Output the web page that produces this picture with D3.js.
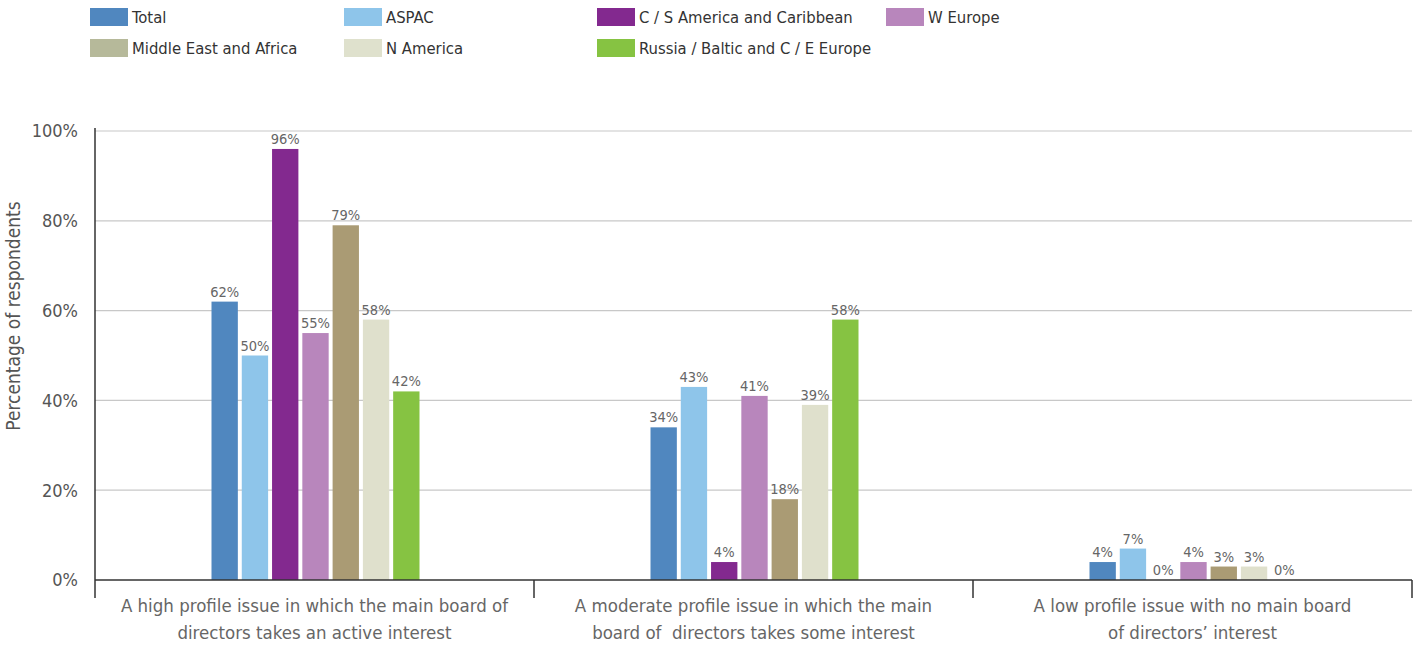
<!DOCTYPE html>
<html>
<head>
<meta charset="utf-8">
<script src="https://cdn.jsdelivr.net/npm/d3@7"></script>
<style>
  html, body { margin: 0; padding: 0; background: #fff; }
  svg { display: block; font-family: "Liberation Sans Narrow", "DejaVu Sans Condensed", "Roboto", sans-serif; }
  svg text { white-space: pre; }
</style>
</head>
<body>
<svg id="chart" width="1423" height="645"></svg>
<script>
// Survey categories (two-line axis labels)
const categories = [
  ["A high profile issue in which the main board of", "directors takes an active interest"],
  ["A moderate profile issue in which the main", "board of  directors takes some interest"],
  ["A low profile issue with no main board", "of directors\u2019 interest"]
];

// Regions and their colours
const series = ["Total", "ASPAC", "C / S America and Caribbean", "W Europe",
                "Middle East and Africa", "N America", "Russia / Baltic and C / E Europe"];
const colors = ["#5087bf", "#8ec5ea", "#83298f", "#b886bc", "#aa9b74", "#dfe0cc", "#86c342"];
const legendColors = ["#5087bf", "#8ec5ea", "#83298f", "#b886bc", "#b6b99a", "#dfe1cd", "#86c342"];

// Percentage of respondents per region, one array per category
const highProfile = [62, 50, 96, 55, 79, 58, 42];
const moderateProfile = [34, 43, 4, 41, 18, 39, 58];
const lowProfile = [4, 7, 0, 4, 3, 3, 0];
const values = [highProfile, moderateProfile, lowProfile];

const yTicks = [0, 20, 40, 60, 80, 100];

const svg = d3.select("#chart");
const plotL = 95, plotR = 1412, plotT = 131, plotB = 580;

const x0 = d3.scaleBand().domain(d3.range(categories.length)).range([plotL, plotR]).padding(0);
const groupW = 208;
const x1 = d3.scaleBand().domain(d3.range(series.length)).range([0, groupW]).paddingInner(0.13).paddingOuter(0);
const y = d3.scaleLinear().domain([0, 100]).range([plotB, plotT]);

// Gridlines
svg.append("g").selectAll("line").data(yTicks.filter(d => d > 0)).join("line")
  .attr("x1", plotL).attr("x2", plotR)
  .attr("y1", d => y(d)).attr("y2", d => y(d))
  .attr("stroke", "#c8c8c8").attr("stroke-width", 1.2);

// Y axis tick labels
svg.append("g").selectAll("text").data(yTicks).join("text")
  .attr("x", 78).attr("y", d => y(d)).attr("dy", "0.35em")
  .attr("text-anchor", "end").attr("font-size", 18).attr("fill", "#555")
  .text(d => d + "%");

// Y axis title
svg.append("text")
  .attr("transform", `translate(20,316) rotate(-90)`)
  .attr("text-anchor", "middle").attr("font-size", 19).attr("fill", "#555")
  .text("Percentage of respondents");

// Bars and value labels
const groups = svg.append("g").selectAll("g").data(values).join("g")
  .attr("transform", (d, i) => `translate(${x0(i) + x0.bandwidth() / 2 - groupW / 2 + 1},0)`);

groups.selectAll("rect").data(d => d).join("rect")
  .attr("x", (d, i) => x1(i)).attr("width", x1.bandwidth())
  .attr("y", d => y(d)).attr("height", d => plotB - y(d))
  .attr("fill", (d, i) => colors[i]);

groups.selectAll("text").data(d => d).join("text")
  .attr("x", (d, i) => x1(i) + x1.bandwidth() / 2)
  .attr("y", d => y(d) - 5)
  .attr("text-anchor", "middle").attr("font-size", 14.5).attr("fill", "#666")
  .text(d => d + "%");

// Axis lines
svg.append("line").attr("x1", plotL).attr("x2", plotL).attr("y1", 128).attr("y2", 598)
  .attr("stroke", "#333").attr("stroke-width", 1.5);
svg.append("line").attr("x1", plotL).attr("x2", plotR).attr("y1", plotB).attr("y2", plotB)
  .attr("stroke", "#333").attr("stroke-width", 1.5);
svg.append("g").selectAll("line").data(d3.range(1, categories.length + 1)).join("line")
  .attr("x1", i => x0.step() * i + plotL).attr("x2", i => x0.step() * i + plotL)
  .attr("y1", plotB).attr("y2", 598)
  .attr("stroke", "#333").attr("stroke-width", 1.5);

// Category labels
const catLabels = svg.append("g").selectAll("text").data(categories).join("text")
  .attr("x", (d, i) => x0(i) + x0.bandwidth() / 2)
  .attr("text-anchor", "middle").attr("font-size", 18.5).attr("fill", "#666");
catLabels.selectAll("tspan").data(d => d).join("tspan")
  .attr("x", function () { return d3.select(this.parentNode).attr("x"); })
  .attr("y", (d, i) => 612 + i * 27)
  .text(d => d);

// Legend
const legendPos = [[90, 8], [344, 8], [597, 8], [886, 8], [90, 39], [344, 39], [597, 39]];
const legend = svg.append("g").selectAll("g").data(series).join("g")
  .attr("transform", (d, i) => `translate(${legendPos[i][0]},${legendPos[i][1]})`);
legend.append("rect").attr("width", 38).attr("height", 18)
  .attr("fill", (d, i) => legendColors[i]);
legend.append("text").attr("x", 42).attr("y", 9).attr("dy", "0.36em")
  .attr("font-size", 16.5).attr("fill", "#333").text(d => d);
</script>
</body>
</html>
